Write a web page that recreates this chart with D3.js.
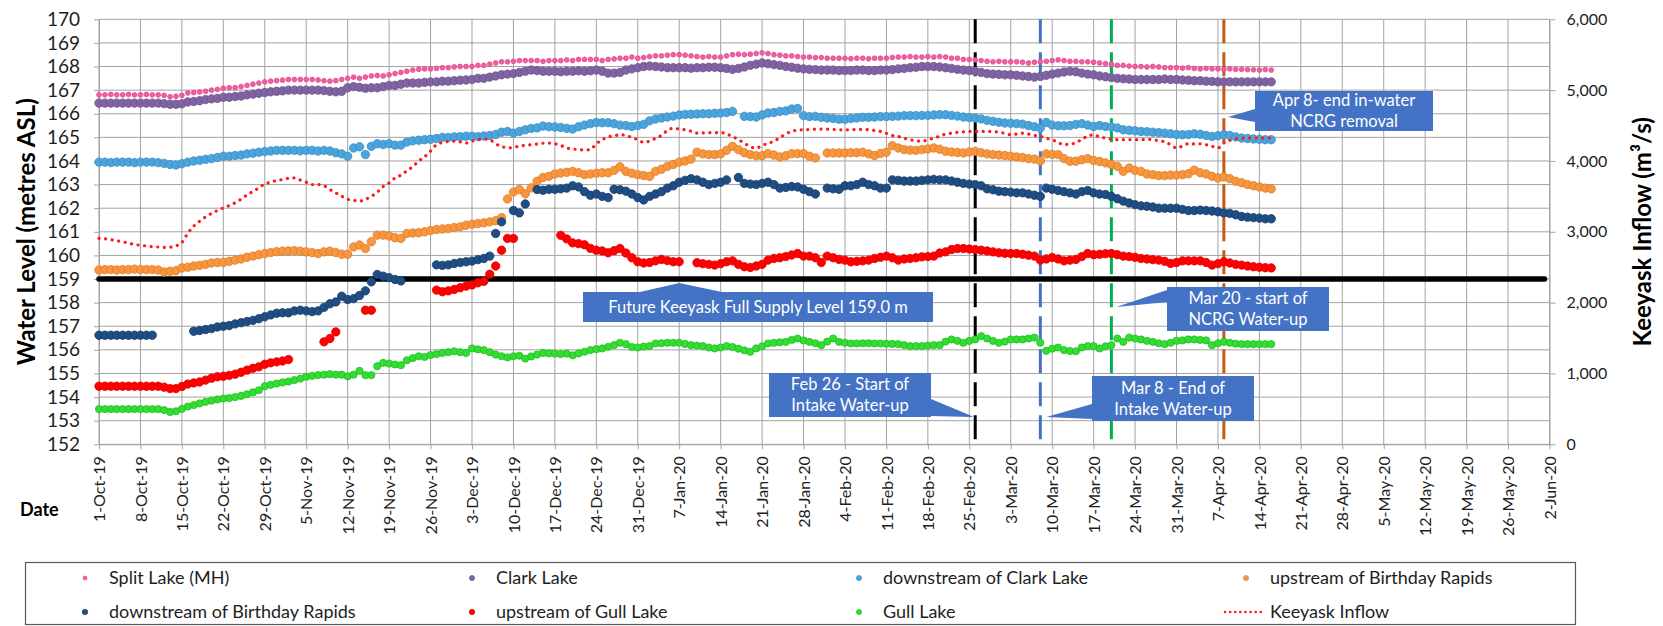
<!DOCTYPE html>
<html>
<head>
<meta charset="utf-8">
<script src="https://cdn.jsdelivr.net/npm/d3@7"></script>
<style>
  body { margin: 0; background: #fff; }
  svg { display: block; font-family: Lato, "Open Sans", sans-serif; }
</style>
</head>
<body>
<div id="chart"></div>
<script>
// ---- data (daily readings starting 1-Oct-2019) ----
const startDay = "1-Oct-19";

const weekTicks = ["1-Oct-19","8-Oct-19","15-Oct-19","22-Oct-19","29-Oct-19","5-Nov-19","12-Nov-19",
  "19-Nov-19","26-Nov-19","3-Dec-19","10-Dec-19","17-Dec-19","24-Dec-19","31-Dec-19","7-Jan-20",
  "14-Jan-20","21-Jan-20","28-Jan-20","4-Feb-20","11-Feb-20","18-Feb-20","25-Feb-20","3-Mar-20",
  "10-Mar-20","17-Mar-20","24-Mar-20","31-Mar-20","7-Apr-20","14-Apr-20","21-Apr-20","28-Apr-20",
  "5-May-20","12-May-20","19-May-20","26-May-20","2-Jun-20"];

const levelTicks = [152,153,154,155,156,157,158,159,160,161,162,163,164,165,166,167,168,169,170];
const flowTicks = [0,1000,2000,3000,4000,5000,6000];

const splitLake = [166.8,166.8,166.82,166.8,166.8,166.82,166.8,166.8,166.82,166.8,
  166.8,166.78,166.72,166.74,166.78,
  166.88,166.9,166.92,166.95,167.0,167.03,
  167.08,167.1,167.1,167.15,167.2,167.25,167.3,
  167.35,167.38,167.4,167.42,167.45,167.45,167.45,
  167.45,167.45,167.43,167.4,167.38,167.4,167.45,
  167.5,167.55,167.5,167.55,167.6,167.62,167.6,
  167.65,167.7,167.75,167.8,167.85,167.88,167.9,
  167.9,167.92,167.95,167.95,167.98,168.0,168.0,
  168.0,168.05,168.05,168.1,168.15,168.2,168.2,
  168.22,168.25,168.25,168.25,168.25,168.22,168.25,
  168.25,168.25,168.28,168.25,168.3,168.3,168.3,
  168.3,168.25,168.3,168.32,168.35,168.35,168.4,
  168.35,168.38,168.42,168.45,168.45,168.48,168.5,
  168.5,168.48,168.45,168.42,168.4,168.42,168.4,
  168.4,168.45,168.5,168.52,168.5,168.52,168.55,
  168.58,168.55,168.5,168.48,168.45,168.45,168.42,
  168.4,168.4,168.38,168.38,168.35,168.35,168.35,
  168.35,168.33,168.35,168.35,168.33,168.35,168.35,
  168.35,168.38,168.4,168.4,168.42,168.4,168.4,
  168.42,168.4,168.42,168.4,168.35,168.35,168.3,
  168.3,168.28,168.25,168.22,168.2,168.22,168.2,
  168.2,168.2,168.18,168.15,168.18,168.2,168.22,
  168.25,168.28,168.25,168.22,168.22,168.2,168.2,
  168.18,168.15,168.12,168.1,168.05,168.05,168.02,
  168.0,168.0,167.98,168.0,167.98,167.95,167.95,
  167.95,167.93,167.95,167.92,167.9,167.92,167.9,
  167.9,167.88,167.9,167.88,167.88,167.87,167.86,
  167.85,167.87,167.85];

const clarkLake = [166.45,166.45,166.45,166.45,166.45,166.45,166.45,166.45,166.45,166.45,
  166.45,166.43,166.4,166.4,166.42,
  166.5,166.52,166.55,166.6,166.63,166.65,
  166.7,166.7,166.73,166.75,166.8,166.83,166.87,
  166.9,166.93,166.95,166.97,167.0,167.0,167.0,
  167.0,167.0,167.0,166.98,166.95,166.93,166.95,
  167.1,167.15,167.12,167.08,167.1,167.1,167.15,
  167.2,167.2,167.25,167.3,167.3,167.3,167.33,
  167.35,167.35,167.38,167.38,167.4,167.42,167.43,
  167.45,167.5,167.5,167.55,167.6,167.65,167.68,
  167.7,167.75,167.8,167.85,167.83,167.8,167.8,
  167.8,167.78,167.8,167.8,167.82,167.8,167.82,
  167.85,167.8,167.72,167.72,167.75,167.85,167.9,
  167.95,168.0,168.02,168.0,167.98,167.95,167.95,
  167.95,167.95,167.93,167.95,167.95,167.97,167.97,
  167.95,167.92,167.88,167.92,167.98,168.05,168.1,
  168.15,168.12,168.08,168.05,168.0,167.97,167.93,
  167.9,167.88,167.87,167.85,167.85,167.85,167.83,
  167.83,167.83,167.85,167.85,167.83,167.83,167.85,
  167.85,167.87,167.9,167.92,167.95,167.97,168.0,
  168.0,168.0,167.98,167.95,167.92,167.88,167.85,
  167.83,167.8,167.75,167.7,167.68,167.67,167.65,
  167.65,167.63,167.6,167.58,167.55,167.58,167.63,
  167.68,167.72,167.77,167.8,167.78,167.72,167.68,
  167.65,167.6,167.57,167.53,167.5,167.48,167.47,
  167.45,167.45,167.45,167.45,167.45,167.47,167.45,
  167.45,167.43,167.42,167.4,167.4,167.38,167.37,
  167.35,167.35,167.35,167.35,167.35,167.35,167.35,
  167.35,167.35,167.35];

const downstreamClark = [163.95,163.95,163.93,163.95,163.95,163.95,163.93,163.95,163.95,163.95,
  163.93,163.9,163.85,163.83,163.88,
  163.95,164.0,164.03,164.07,164.1,164.15,
  164.2,164.2,164.23,164.25,164.3,164.33,164.37,
  164.4,164.42,164.45,164.45,164.45,164.45,164.43,
  164.45,164.45,164.42,164.45,164.42,164.35,164.3,
  164.2,164.55,164.6,164.27,164.62,164.73,164.7,
  164.73,164.67,164.67,164.8,164.85,164.88,164.9,
  164.92,164.95,165.0,165.0,165.02,165.03,165.05,
  165.05,165.03,165.06,165.08,165.12,165.22,165.25,
  165.18,165.25,165.32,165.38,165.4,165.48,165.45,
  165.44,165.42,165.38,165.35,165.45,165.52,165.58,
  165.63,165.62,165.62,165.58,165.52,165.5,165.46,
  165.5,165.55,165.7,165.78,165.82,165.86,165.9,
  165.95,165.97,165.98,165.99,166.0,166.0,166.02,
  166.03,166.05,166.1,null,165.89,165.88,165.86,
  165.95,166.03,166.05,166.1,166.12,166.2,166.22,
  165.92,165.88,165.89,165.85,165.82,165.8,165.77,
  165.77,165.8,165.82,165.85,165.85,165.86,165.88,
  165.88,165.89,165.9,165.92,165.92,165.92,165.93,
  165.93,165.95,165.96,165.96,165.93,165.9,165.86,
  165.84,165.82,165.78,165.72,165.68,165.64,165.61,
  165.6,165.58,165.56,165.5,165.45,165.39,165.63,
  165.52,165.49,165.49,165.5,165.55,165.58,165.52,
  165.46,165.5,165.46,165.44,165.4,165.32,165.3,
  165.28,165.25,165.24,165.22,165.2,165.18,165.15,
  165.12,165.11,165.12,165.15,165.13,165.08,165.04,
  165.07,165.11,165.08,165.02,164.97,164.95,164.93,
  164.92,164.9,164.9];

const upstreamBirthday = [159.38,159.4,159.4,159.38,159.4,159.4,159.42,159.4,159.4,159.4,
  159.38,159.3,159.33,159.35,159.47,
  159.5,159.55,159.58,159.62,159.68,159.7,
  159.7,159.75,159.8,159.85,159.92,159.97,160.03,
  160.08,160.12,160.16,160.18,160.19,160.2,160.18,
  160.15,160.12,160.08,160.15,160.18,160.12,160.05,
  160.05,160.36,160.44,160.29,160.58,160.86,160.86,
  160.82,160.75,160.72,160.93,160.95,160.96,161.0,
  161.05,161.1,161.12,161.14,161.18,161.21,161.28,
  161.32,161.35,161.38,161.42,161.47,161.6,162.39,
  162.68,162.79,162.61,162.86,163.14,163.3,163.35,
  163.45,163.49,163.52,163.56,163.5,163.42,163.45,
  163.48,163.5,163.5,163.6,163.75,163.56,163.48,
  163.42,163.38,163.35,163.56,163.65,163.77,163.85,
  163.95,164.0,164.08,164.37,164.3,164.27,164.27,
  164.3,164.45,164.62,164.48,164.35,164.27,164.22,
  164.22,164.31,164.25,164.17,164.22,164.31,164.31,
  164.31,164.2,164.13,null,164.34,164.34,164.34,
  164.34,164.35,164.35,164.37,164.3,164.23,164.32,
  164.37,164.65,164.55,164.48,164.46,164.45,164.48,
  164.51,164.55,164.5,164.41,164.38,164.36,164.34,
  164.38,164.41,164.35,164.3,164.27,164.25,164.23,
  164.2,164.17,164.15,164.1,164.08,164.0,164.3,
  164.28,164.27,164.1,163.99,163.99,164.05,164.1,
  164.02,163.98,163.92,163.85,163.77,163.56,163.7,
  163.6,163.56,163.45,163.42,163.38,163.38,163.4,
  163.4,163.42,163.46,163.61,163.5,163.45,163.35,
  163.28,163.32,163.25,163.14,163.08,163.0,162.95,
  162.9,162.85,162.82];

const downstreamBirthday = [156.62,156.62,156.62,156.62,156.62,156.62,156.62,156.62,156.62,156.62,
  null,null,null,null,null,
  null,156.79,156.82,156.86,156.9,156.97,
  157.0,157.03,157.1,157.15,157.2,157.25,157.32,
  157.4,157.48,157.55,157.57,157.57,157.65,157.68,
  157.65,157.62,157.65,157.8,157.95,158.03,158.27,
  158.13,158.17,158.3,158.5,158.88,159.19,159.12,
  159.06,158.98,158.92,null,null,null,null,
  null,159.6,159.58,159.6,159.66,159.7,159.73,
  159.76,159.82,159.87,159.97,160.93,161.42,null,
  161.9,161.8,162.18,null,162.79,162.76,162.8,
  162.8,162.82,162.85,162.95,162.9,162.7,162.55,
  162.6,162.5,162.45,162.8,162.78,162.72,162.6,
  162.45,162.35,162.5,162.6,162.7,162.85,162.95,
  163.1,163.18,163.25,163.2,163.1,163.0,163.05,
  163.1,163.2,null,163.3,163.05,163.02,163.0,
  163.05,163.1,163.0,162.85,162.88,162.92,162.9,
  162.8,162.7,162.6,null,162.85,162.82,162.8,
  162.95,162.95,163.0,163.1,163.0,162.95,162.85,
  162.85,163.2,163.18,163.15,163.15,163.15,163.18,
  163.2,163.22,163.2,163.2,163.15,163.1,163.05,
  163.02,163.0,162.95,162.82,162.78,162.72,162.7,
  162.68,162.65,162.65,162.6,162.55,162.5,162.85,
  162.8,162.75,162.7,162.65,162.6,162.7,162.75,
  162.65,162.6,162.58,162.5,162.4,162.3,162.22,
  162.15,162.1,162.08,162.05,162.0,162.0,162.0,
  162.0,161.95,161.9,161.9,161.92,161.9,161.88,
  161.85,161.8,161.78,161.72,161.65,161.62,161.6,
  161.58,161.55,161.55];

const upstreamGull = [154.46,154.46,154.46,154.46,154.46,154.46,154.46,154.46,154.46,154.46,
  154.46,154.42,154.36,154.36,154.45,
  154.55,154.6,154.64,154.72,154.8,154.86,
  154.88,154.92,154.97,155.05,155.14,155.22,155.28,
  155.39,155.45,155.49,155.53,155.59,null,null,
  null,null,null,156.34,156.48,156.76,null,
  null,null,null,157.68,157.68,null,null,
  null,null,null,null,null,null,null,
  null,158.53,158.46,158.5,158.56,158.63,158.7,
  158.75,158.84,158.9,159.2,159.55,160.22,160.72,
  160.72,null,null,null,null,null,null,
  null,160.85,160.7,160.53,160.5,160.45,160.3,
  160.22,160.19,160.11,160.2,160.29,160.1,159.9,
  159.73,159.68,159.7,159.77,159.83,159.78,159.73,
  159.73,null,null,159.69,159.65,159.62,159.59,
  159.65,159.73,159.77,159.62,159.52,159.49,159.55,
  159.62,159.8,159.87,159.9,159.95,160.02,160.08,
  159.97,159.97,159.9,159.7,159.97,159.9,159.83,
  159.8,159.73,159.75,159.77,159.8,159.87,159.92,
  159.97,159.9,159.8,159.85,159.87,159.9,159.94,
  159.95,159.97,160.1,160.15,160.25,160.29,160.29,
  160.27,160.25,160.22,160.19,160.15,160.11,160.09,
  160.08,160.08,160.05,160.01,159.97,159.8,159.85,
  159.91,159.85,159.77,159.8,159.83,159.95,160.08,
  160.03,160.05,160.07,160.08,160.03,159.97,159.95,
  159.92,159.87,159.85,159.82,159.8,159.75,159.66,
  159.7,159.77,159.77,159.77,159.77,159.7,159.59,
  159.65,159.73,159.68,159.62,159.59,159.55,159.52,
  159.5,159.48,159.47];

const gullLake = [153.49,153.49,153.49,153.49,153.49,153.49,153.49,153.49,153.49,153.49,
  153.49,153.45,153.37,153.4,153.5,
  153.6,153.66,153.73,153.8,153.85,153.9,
  153.94,153.96,154.0,154.05,154.12,154.2,154.29,
  154.46,154.52,154.57,154.62,154.66,154.72,154.78,
  154.86,154.9,154.93,154.95,154.97,154.95,154.95,
  154.88,154.95,155.11,154.93,154.93,155.31,155.45,
  155.42,155.38,155.35,155.56,155.65,155.73,155.7,
  155.78,155.82,155.87,155.9,155.94,155.9,155.87,
  156.06,156.02,155.99,155.9,155.8,155.73,155.68,
  155.73,155.75,155.63,155.72,155.8,155.87,155.85,
  155.84,155.82,155.84,155.77,155.85,155.92,155.99,
  156.03,156.06,156.13,156.2,156.3,156.24,156.12,
  156.1,156.14,156.16,156.27,156.28,156.3,156.3,
  156.3,156.25,156.2,156.18,156.16,156.1,156.06,
  156.1,156.16,156.12,156.05,155.98,155.92,156.06,
  156.15,156.27,156.3,156.32,156.34,156.42,156.48,
  156.4,156.34,156.28,156.2,156.35,156.48,156.34,
  156.3,156.27,156.27,156.28,156.28,156.27,156.27,
  156.26,156.25,156.24,156.2,156.16,156.16,156.16,
  156.18,156.2,156.2,156.35,156.44,156.38,156.3,
  156.38,156.44,156.58,156.48,156.38,156.3,156.35,
  156.44,156.44,156.44,156.48,156.52,156.3,155.96,
  156.05,156.1,155.99,155.95,155.94,156.1,156.16,
  156.16,156.06,156.15,156.2,156.48,156.34,156.52,
  156.48,156.44,156.38,156.34,156.28,156.24,156.3,
  156.38,156.4,156.44,156.44,156.42,156.4,156.2,
  156.28,156.34,156.3,156.26,156.24,156.24,156.24,
  156.24,156.24,156.24];

// Keeyask inflow, m3/s (secondary axis)
const keeyaskInflow = [2907,2900,2890,2873,2860,2840,2820,2810,2800,2790,
  2785,2780,2782,2800,2850,
  2980,3080,3150,3210,3260,3300,
  3337,3370,3410,3460,3520,3570,3620,
  3677,3700,3725,3737,3755,3760,3730,
  3700,3667,3667,3650,3597,3550,3503,
  3460,3445,3433,3460,3500,3560,3640,
  3690,3760,3800,3860,3920,4000,4060,
  4140,4230,4260,4275,4280,4270,4253,
  4280,4300,4310,4300,4240,4207,4183,
  4190,4210,4220,4230,4240,4250,4253,
  4243,4220,4183,4170,4160,4155,4160,
  4243,4300,4340,4355,4370,4360,4330,
  4300,4263,4280,4320,4360,4430,4463,
  4450,4440,4420,4393,4395,4400,4400,
  4403,4380,4347,4300,4253,4200,4183,
  4217,4250,4277,4330,4380,4420,4433,
  4440,4445,4450,4450,4450,4445,4440,
  4440,4440,4445,4445,4440,4430,4417,
  4390,4360,4347,4320,4300,4285,4277,
  4300,4323,4350,4380,4393,4405,4410,
  4417,4417,4417,4417,4417,4405,4390,
  4370,4380,4393,4380,4360,4347,4320,
  4300,4260,4230,4240,4253,4310,4347,
  4370,4340,4323,4310,4300,4300,4300,
  4300,4300,4305,4300,4285,4270,4230,
  4183,4210,4243,4240,4243,4230,4207,
  4183,4253,4290,4310,4320,4323,4323,
  4323,4323,4323];

const supplyLevel = 159.0;

const events = [
  {date: "26-Feb-20", color: "#000000"},
  {date: "8-Mar-20", color: "#4472C4"},
  {date: "20-Mar-20", color: "#00B050"},
  {date: "8-Apr-20", color: "#C55A11"}
];

// ---- chart ----
const W = 1663, H = 626;
const plot = {left: 99, right: 1549.5, top: 19.3, bottom: 444.3};
const parseDate = d3.timeParse("%-d-%b-%y");
const day0 = parseDate(startDay);

const svg = d3.select("#chart").append("svg")
    .attr("width", W)
    .attr("height", H);

const xScale = d3.scaleTime()
    .domain([parseDate(weekTicks[0]), parseDate(weekTicks[weekTicks.length - 1])])
    .range([plot.left, plot.right]);
const yLevel = d3.scaleLinear().domain([152, 170]).range([plot.bottom, plot.top]);
const yFlow = d3.scaleLinear().domain([0, 6000]).range([plot.bottom, plot.top]);

const gridColor = "#A3A3A3";
const tickDates = weekTicks.map(parseDate);

// gridlines
svg.append("g").selectAll("line.hg")
  .data(levelTicks).join("line")
    .attr("x1", plot.left).attr("x2", plot.right)
    .attr("y1", d => yLevel(d)).attr("y2", d => yLevel(d))
    .attr("stroke", gridColor).attr("stroke-width", 1);
svg.append("g").selectAll("line.vg")
  .data(tickDates).join("line")
    .attr("x1", d => xScale(d)).attr("x2", d => xScale(d))
    .attr("y1", plot.top).attr("y2", plot.bottom)
    .attr("stroke", gridColor).attr("stroke-width", 1);

// axes
const styleAxis = g => {
  g.select(".domain").attr("stroke", gridColor);
  g.selectAll(".tick line").attr("stroke", gridColor);
  g.selectAll("text").attr("fill", "#1e1e1e").attr("font-family", "Lato, sans-serif");
};

svg.append("g")
    .attr("transform", `translate(${plot.left},0)`)
    .call(d3.axisLeft(yLevel).tickValues(levelTicks).tickSize(5).tickSizeOuter(0).tickPadding(14))
    .call(styleAxis)
    .selectAll("text").attr("font-size", 19);

svg.append("g")
    .attr("transform", `translate(${plot.right},0)`)
    .call(d3.axisRight(yFlow).tickValues(flowTicks).tickSize(6).tickSizeOuter(0).tickPadding(11)
      .tickFormat(d3.format(",")))
    .call(styleAxis)
    .selectAll("text").attr("font-size", 16);

const xAxisG = svg.append("g")
    .attr("transform", `translate(0,${plot.bottom})`)
    .call(d3.axisBottom(xScale).tickValues(tickDates).tickSize(5).tickSizeOuter(0)
      .tickFormat(d3.timeFormat("%-d-%b-%y")))
    .call(styleAxis);
xAxisG.selectAll("text")
    .attr("font-size", 16)
    .attr("transform", "rotate(-90)")
    .attr("x", -12).attr("y", 0).attr("dy", "0.35em")
    .style("text-anchor", "end");

// axis titles
svg.append("text")
    .attr("transform", `translate(27,${(plot.top + plot.bottom) / 2}) rotate(-90)`)
    .attr("text-anchor", "middle").attr("dy", "0.35em")
    .attr("font-size", 24).attr("font-weight", "bold").attr("fill", "#000")
    .text("Water Level (metres ASL)");
svg.append("text")
    .attr("transform", `translate(1643,${(plot.top + plot.bottom) / 2}) rotate(-90)`)
    .attr("text-anchor", "middle").attr("dy", "0.35em")
    .attr("font-size", 24).attr("font-weight", "bold").attr("fill", "#000")
    .text("Keeyask Inflow (m³/s)");
svg.append("text")
    .attr("x", 20).attr("y", 510).attr("dy", "0.35em")
    .attr("font-size", 18).attr("font-weight", "bold").attr("fill", "#000")
    .text("Date");

// full supply level line
svg.append("line")
    .attr("x1", plot.left).attr("x2", plot.right - 5)
    .attr("y1", yLevel(supplyLevel)).attr("y2", yLevel(supplyLevel))
    .attr("stroke", "#000").attr("stroke-width", 5.5).attr("stroke-linecap", "round");

// event lines
svg.append("g").selectAll("line")
  .data(events).join("line")
    .attr("x1", d => xScale(parseDate(d.date))).attr("x2", d => xScale(parseDate(d.date)))
    .attr("y1", plot.top).attr("y2", plot.bottom)
    .attr("stroke", d => d.color).attr("stroke-width", 3)
    .attr("stroke-dasharray", "24,9");

// series
const series = [
  {name: "Split Lake (MH)", values: splitLake, fill: "#F25FA0", stroke: "#E0458A", r: 2.4, lr: 2},
  {name: "Clark Lake", values: clarkLake, fill: "#8064A2", stroke: "#6E5290", r: 4.2, lr: 2.6},
  {name: "downstream of Clark Lake", values: downstreamClark, fill: "#4BA5DC", stroke: "#3A8DC4", r: 4.2, lr: 2.6},
  {name: "upstream of Birthday Rapids", values: upstreamBirthday, fill: "#F7963F", stroke: "#E07B22", r: 4.2, lr: 2.6},
  {name: "downstream of Birthday Rapids", values: downstreamBirthday, fill: "#1F4E85", stroke: "#173C68", r: 4.2, lr: 2.8},
  {name: "upstream of Gull Lake", values: upstreamGull, fill: "#FF0000", stroke: "#E00000", r: 4.2, lr: 2.8},
  {name: "Gull Lake", values: gullLake, fill: "#33DD33", stroke: "#1FBF1F", r: 3.6, lr: 2.6}
];

const dayDate = i => d3.timeDay.offset(day0, i);

series.forEach(s => {
  const pts = s.values.map((v, i) => ({date: dayDate(i), v})).filter(d => d.v != null);
  svg.append("g").selectAll("circle")
    .data(pts).join("circle")
      .attr("cx", d => xScale(d.date))
      .attr("cy", d => yLevel(d.v))
      .attr("r", s.r)
      .attr("fill", s.fill)
      .attr("stroke", s.stroke)
      .attr("stroke-width", 0.8);
});

const inflowLine = d3.line()
    .x((d, i) => xScale(dayDate(i)))
    .y(d => yFlow(d))
    .curve(d3.curveMonotoneX);
svg.append("path")
    .datum(keeyaskInflow)
    .attr("d", inflowLine)
    .attr("fill", "none")
    .attr("stroke", "#FF1A1A")
    .attr("stroke-width", 3.2)
    .attr("stroke-linecap", "round")
    .attr("stroke-dasharray", "0.1,6.5");

// callouts
const callouts = [
  {lines: ["Future Keeyask Full Supply Level 159.0 m"], box: [583, 292, 350, 30],
    wedge: [[640, 292], [xScale(parseDate("7-Jan-20")), yLevel(supplyLevel) + 4], [722, 292]]},
  {lines: ["Feb 26 - Start of", "Intake Water-up"], box: [769, 373, 162, 44],
    wedge: [[931, 399], [xScale(parseDate("26-Feb-20")) - 1, 417], [931, 416]]},
  {lines: ["Mar 8 - End of", "Intake Water-up"], box: [1092, 376, 162, 45],
    wedge: [[1092, 404], [xScale(parseDate("8-Mar-20")) + 6, 417], [1092, 419]]},
  {lines: ["Mar 20 - start of", "NCRG Water-up"], box: [1167, 287, 162, 44],
    wedge: [[1167, 290], [xScale(parseDate("20-Mar-20")) + 5, 307], [1167, 302]]},
  {lines: ["Apr 8- end in-water", "NCRG removal"], box: [1255, 91, 178, 40],
    wedge: [[1255, 109], [xScale(parseDate("8-Apr-20")) + 4, 117], [1255, 122]]}
];

const calloutG = svg.append("g");
callouts.forEach(c => {
  const [bx, by, bw, bh] = c.box;
  calloutG.append("path")
      .attr("d", d3.line()(c.wedge) + "Z")
      .attr("fill", "#4472C4");
  calloutG.append("rect")
      .attr("x", bx).attr("y", by).attr("width", bw).attr("height", bh)
      .attr("fill", "#4472C4");
  const lh = 21;
  const y0 = by + bh / 2 - (c.lines.length - 1) * lh / 2;
  c.lines.forEach((t, i) => {
    calloutG.append("text")
        .attr("x", bx + bw / 2).attr("y", y0 + i * lh).attr("dy", "0.35em")
        .attr("text-anchor", "middle")
        .attr("font-size", 16.5).attr("fill", "#fff")
        .text(t);
  });
});

// legend
const legend = {x: 25, y: 562, w: 1550, h: 62, colX: [85, 472, 859, 1246], rowY: [578, 612]};
svg.append("rect")
    .attr("x", legend.x + 0.5).attr("y", legend.y + 0.5)
    .attr("width", legend.w).attr("height", legend.h)
    .attr("fill", "#fff").attr("stroke", "#595959").attr("stroke-width", 1.2);

const legendItems = series.map(s => ({...s, type: "marker"}))
  .concat([{name: "Keeyask Inflow", type: "line"}]);

legendItems.forEach((d, i) => {
  const col = i % 4, row = Math.floor(i / 4);
  const lx = legend.colX[col], ly = legend.rowY[row];
  if (d.type === "marker") {
    svg.append("circle")
        .attr("cx", lx).attr("cy", ly).attr("r", d.lr)
        .attr("fill", d.fill).attr("stroke", d.stroke).attr("stroke-width", 0.6);
  } else {
    svg.append("line")
        .attr("x1", lx - 21).attr("x2", lx + 16).attr("y1", ly).attr("y2", ly)
        .attr("stroke", "#FF1A1A").attr("stroke-width", 2.5)
        .attr("stroke-linecap", "round").attr("stroke-dasharray", "0.1,5");
  }
  svg.append("text")
      .attr("x", lx + 24).attr("y", ly).attr("dy", "0.35em")
      .attr("font-size", 18).attr("fill", "#1e1e1e")
      .text(d.name);
});
</script>
</body>
</html>
